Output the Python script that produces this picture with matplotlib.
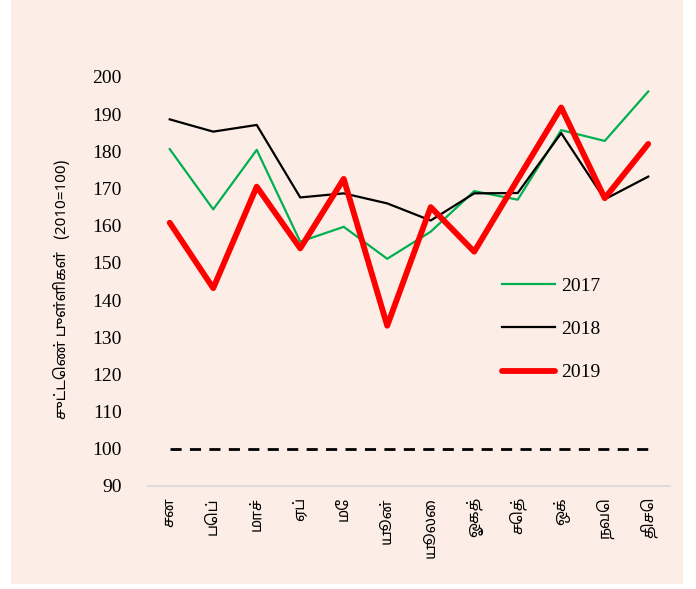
import matplotlib.pyplot as plt
from matplotlib.patches import Rectangle

# monthly index values (2010=100)
months = ["சன", "பெப்", "மாச்", "ஏப்", "மே", "யூன்", "யூலை", "ஓகத்", "செத்", "ஒக்", "நவெ", "திசெ"]
y2017 = [180.6, 164.4, 180.4, 155.7, 159.7, 151.1, 158.4, 169.3, 167.0, 185.7, 182.8, 196.1]
y2018 = [188.6, 185.3, 187.1, 167.6, 168.7, 166.0, 161.4, 168.7, 168.8, 184.9, 167.1, 173.2]
y2019 = [160.8, 143.2, 170.5, 153.9, 172.6, 133.1, 165.0, 153.0, 172.5, 191.8, 167.4, 182.0]
base = [100] * 12

bg = '#FCEEE6'
tamil = ['Noto Sans Tamil', 'Noto Serif Tamil', 'Lohit Tamil', 'DejaVu Sans']
serif = ['Liberation Serif', 'DejaVu Serif']

fig = plt.figure(figsize=(6.96, 5.89), dpi=100)
fig.patch.set_facecolor('white')
fig.patches.append(Rectangle((11 / 696, 5 / 589), 672 / 696, 584 / 589,
                             transform=fig.transFigure, facecolor=bg,
                             edgecolor='none', zorder=-10))

ax = fig.add_axes([0.2126, 0.1749, 0.75, 0.6944])
ax.set_facecolor(bg)

x = list(range(len(months)))
ax.plot(x, y2017, color='#00B050', lw=1.6, label='2017')
ax.plot(x, y2018, color='black', lw=1.6, label='2018')
ax.plot(x, y2019, color='#FF0000', lw=4.2, solid_capstyle='round', label='2019')
ax.plot(x, base, color='black', lw=2, dashes=(4, 3))

ax.set_xlim(-0.5, len(months) - 0.5)
ax.set_ylim(90, 200)
ax.set_yticks(range(90, 201, 10))
for s in ['top', 'right', 'left']:
    ax.spines[s].set_visible(False)
ax.spines['bottom'].set_color('#D9D9D9')
ax.spines['bottom'].set_linewidth(1.2)

ax.tick_params(axis='both', length=0)
ax.tick_params(axis='y', pad=19)
ax.tick_params(axis='x', pad=8)
ax.set_xticks(x)
ax.set_xticklabels(months, rotation=90, family=tamil, fontsize=11)
for lab in ax.get_yticklabels():
    lab.set_family(serif)
    lab.set_fontsize(14)

ax.set_ylabel("சுட்டெண் புள்ளிகள்   (2010=100)", family=tamil, fontsize=11)
ax.yaxis.set_label_coords(-0.149, 0.48)

leg = ax.legend(loc='upper left', bbox_to_anchor=(0.645, 0.553), frameon=False,
                handlelength=2.7, labelspacing=1.32, handletextpad=0.35,
                prop={'family': serif, 'size': 14})

fig.savefig('out.png', dpi=100, facecolor=fig.get_facecolor())
